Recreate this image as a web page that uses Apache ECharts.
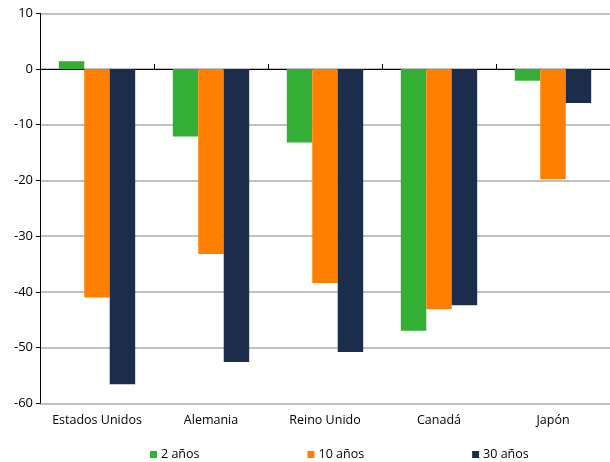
<!DOCTYPE html>
<html>
<head>
<meta charset="utf-8">
<script src="https://cdn.jsdelivr.net/npm/echarts@6/dist/echarts.min.js"></script>
<style>
  html, body { margin: 0; padding: 0; background: #fff; }
  #chart { width: 610px; height: 462px; }
</style>
</head>
<body>
<div id="chart"></div>
<script>
// Countries on the category axis
const categories = ['Estados Unidos', 'Alemania', 'Reino Unido', 'Canadá', 'Japón'];

// Change by maturity (2, 10 and 30 years)
const twoYears = [1.4, -12.1, -13.2, -47.0, -2.1];
const tenYears = [-41.0, -33.2, -38.4, -43.1, -19.8];
const thirtyYears = [-56.6, -52.6, -50.8, -42.4, -6.1];

const seriesNames = ['2 años', '10 años', '30 años'];
const colors = ['#33AF35', '#FF7F00', '#1B2D4B'];

// Y axis range
const yMin = -60, yMax = 10, yStep = 10;

const font = 'Open Sans, Noto Sans, sans-serif';
const chart = echarts.init(document.getElementById('chart'), null, { renderer: 'canvas' });

const mkSeries = (name, data, color) => ({
  name, type: 'bar', data, xAxisIndex: 0,
  barGap: '0%', barCategoryGap: '33%',
  itemStyle: { color },
  emphasis: { disabled: true }
});

chart.setOption({
  animation: false,
  textStyle: { fontFamily: font },
  grid: { left: 40, right: -3, top: 13.3, bottom: 58.7, containLabel: false },
  legend: {
    data: seriesNames,
    left: 145, top: 443,
    itemWidth: 7, itemHeight: 7, itemGap: 108,
    icon: 'rect',
    textStyle: { fontFamily: font, fontSize: 12.5, color: '#000', padding: [0, 0, 0, -1] }
  },
  xAxis: [
    {
      // axis line drawn at zero with upward ticks
      type: 'category', data: categories,
      axisLine: { onZero: true, lineStyle: { color: '#000', width: 1 } },
      axisTick: { show: true, inside: true, length: 5, lineStyle: { color: '#000' } },
      axisLabel: { show: false },
      splitLine: { show: false }
    },
    {
      // labels along the bottom of the plot
      type: 'category', data: categories, position: 'bottom',
      axisLine: { show: false, onZero: false },
      axisTick: { show: false },
      axisLabel: { show: true, interval: 0, margin: 11, fontSize: 12.5, color: '#000', fontFamily: font },
      splitLine: { show: false }
    }
  ],
  yAxis: {
    type: 'value', min: yMin, max: yMax, interval: yStep,
    axisLine: { show: true, lineStyle: { color: '#000', width: 1 } },
    axisTick: { show: true, length: 4, lineStyle: { color: '#000' } },
    axisLabel: { margin: 7, fontSize: 13, color: '#000', fontFamily: font },
    splitLine: { show: true, lineStyle: { color: '#ADADAD', width: 1.5 } }
  },
  series: [
    mkSeries(seriesNames[0], twoYears, colors[0]),
    mkSeries(seriesNames[1], tenYears, colors[1]),
    mkSeries(seriesNames[2], thirtyYears, colors[2])
  ]
});
</script>
</body>
</html>
